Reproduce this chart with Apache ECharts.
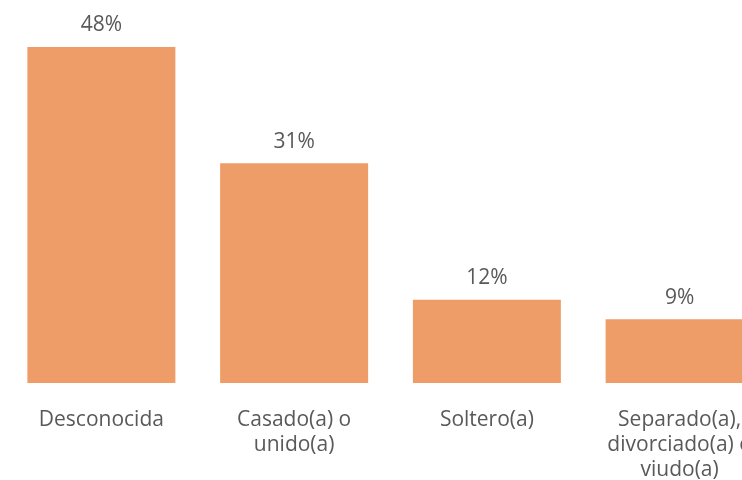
<!DOCTYPE html>
<html><head><meta charset="utf-8">
<script src="https://cdn.jsdelivr.net/npm/echarts@6/dist/echarts.min.js"></script>
<style>html,body{margin:0;padding:0;background:#fff}#c{width:742px;height:480px}</style>
</head><body><div id="c"></div>
<script>
var categories = ['Desconocida', 'Casado(a) o\nunido(a)', 'Soltero(a)', 'Separado(a),\ndivorciado(a) o\nviudo(a)'];
var values = [48, 31.4, 11.9, 9.1];
var valueLabels = ['48%', '31%', '12%', '9%'];

var chart = echarts.init(document.getElementById('c'));
var FONT = '"Open Sans", sans-serif';
chart.setOption({
  animation: false,
  grid: { left: 5, top: 47, bottom: 97, width: 771, containLabel: false, outerBoundsMode: 'none' },
  xAxis: {
    type: 'category', data: categories,
    axisLine: { show: false }, axisTick: { show: false },
    axisLabel: { color: '#595959', fontSize: 21, fontFamily: FONT, lineHeight: 25, margin: 25, interval: 0 }
  },
  yAxis: { type: 'value', min: 0, max: 48, show: false, splitLine: { show: false } },
  series: [{
    type: 'bar', data: values, barWidth: 148,
    itemStyle: { color: '#EE9D68' },
    label: {
      show: true, position: 'top', distance: 11, color: '#595959', fontSize: 21, fontFamily: FONT,
      formatter: function (p) { return valueLabels[p.dataIndex]; }
    }
  }]
});
</script></body></html>
